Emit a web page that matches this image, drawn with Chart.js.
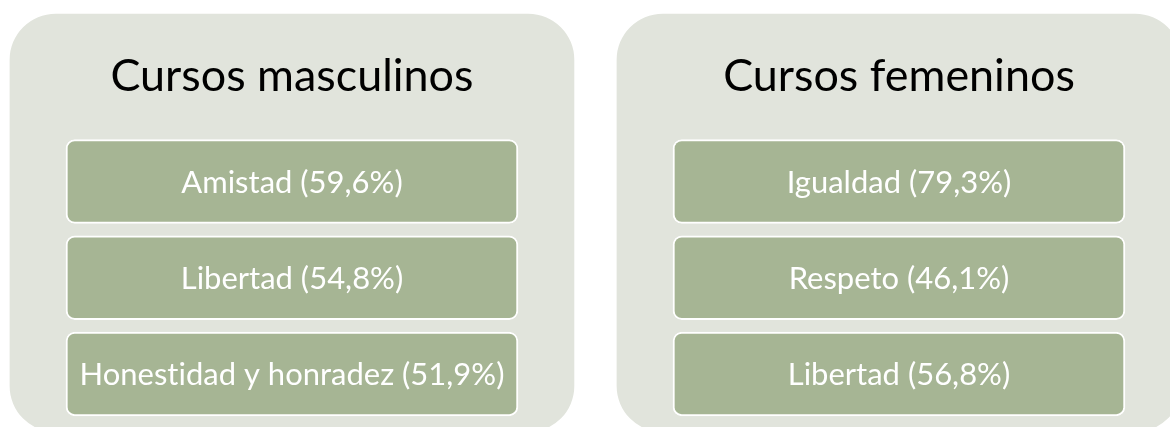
<html>
  <head>
    <script src="https://cdn.jsdelivr.net/npm/chart.js@4.4.1/dist/chart.umd.min.js"></script>
    <style>
      body { margin: 0; background: #ffffff; }
    </style>
  </head>
  <body>
    <canvas id="valuesChart" width="1170" height="427"></canvas>
    <script>
      // groups (columns) and the three top values of each one
      const groups = ['Cursos masculinos', 'Cursos femeninos'];
      const ranks = [1, 2, 3];
      const mascLabels = ['Amistad', 'Libertad', 'Honestidad y honradez'];
      const mascValues = [59.6, 54.8, 51.9];
      const femLabels = ['Igualdad', 'Respeto', 'Libertad'];
      const femValues = [79.3, 46.1, 56.8];

      const PANEL_COLOR = '#e1e4dc';
      const BOX_COLOR = '#a6b594';
      const FONT = 'Lato, "Open Sans", sans-serif';

      const BOX_HALF = 0.435;          // half height of a box, in rank units
      const PANEL_TOP = -0.74;
      const PANEL_BOTTOM = 3.6;
      const TITLE_ROW = -0.11;

      const boxLabels = [mascLabels, femLabels];
      const boxValues = [mascValues, femValues];

      function fmt(v) {
        return v.toFixed(1).replace('.', ',') + '%';
      }

      let datasets = ranks.map(function(r) {
        return {
          label: 'Puesto ' + r,
          data: groups.map(function(g, gi) {
            return { x: gi, y: [r - BOX_HALF, r + BOX_HALF] };
          }),
          backgroundColor: BOX_COLOR,
          borderColor: '#ffffff',
          borderWidth: 2,
          borderRadius: 9,
          borderSkipped: false,
          barThickness: 452,
          order: 1
        };
      });
      datasets.push({
        label: 'panel',
        data: groups.map(function(g, gi) {
          return { x: gi, y: [PANEL_TOP, PANEL_BOTTOM] };
        }),
        backgroundColor: PANEL_COLOR,
        borderWidth: 0,
        borderRadius: 46,
        borderSkipped: false,
        barThickness: 564,
        order: 2
      });

      function fitSize(ctx, texts, target) {
        ctx.font = 'normal 100px ' + FONT;
        let w = 0;
        texts.forEach(function(t) { w = Math.max(w, ctx.measureText(t).width); });
        return 100 * target / w;
      }

      const textPlugin = {
        id: 'boxText',
        afterDatasetsDraw: function(chart) {
          const ctx = chart.ctx;
          const xs = chart.scales.x, ys = chart.scales.y;
          ctx.save();
          ctx.textAlign = 'center';
          ctx.textBaseline = 'alphabetic';
          ctx.letterSpacing = '0.01px';   // keeps Lato from joining "ti"

          // titles
          const titleSize = fitSize(ctx, [groups[0]], 363);
          ctx.font = 'normal ' + titleSize + 'px ' + FONT;
          ctx.fillStyle = '#000000';
          const capT = ctx.measureText('C').actualBoundingBoxAscent;
          groups.forEach(function(g, gi) {
            ctx.fillText(g, xs.getPixelForValue(gi), ys.getPixelForValue(TITLE_ROW) + capT / 2);
          });

          // box labels
          let all = [];
          groups.forEach(function(g, gi) {
            ranks.forEach(function(r, ri) {
              all.push(boxLabels[gi][ri] + ' (' + fmt(boxValues[gi][ri]) + ')');
            });
          });
          const boxSize = fitSize(ctx, all, 425);
          ctx.font = 'normal ' + boxSize + 'px ' + FONT;
          ctx.fillStyle = '#ffffff';
          const capB = ctx.measureText('H').actualBoundingBoxAscent;
          ranks.forEach(function(r, ri) {
            const meta = chart.getDatasetMeta(ri);
            meta.data.forEach(function(el, gi) {
              const c = el.getCenterPoint();
              const txt = boxLabels[gi][ri] + ' (' + fmt(boxValues[gi][ri]) + ')';
              ctx.fillText(txt, c.x, c.y + capB / 2);
            });
          });
          ctx.restore();
        }
      };

      window.onload = function() {
        const ctxChart = document.getElementById('valuesChart');
        window.myChart = new Chart(ctxChart, {
          type: 'bar',
          data: { datasets: datasets },
          options: {
            responsive: false,
            animation: false,
            devicePixelRatio: 1,
            layout: { padding: 0 },
            datasets: { bar: { grouped: false } },
            plugins: {
              legend: { display: false },
              tooltip: { enabled: false },
              title: { display: false }
            },
            scales: {
              x: { type: 'linear', display: false, offset: false, min: -0.481, max: 1.4465 },
              y: { type: 'linear', display: false, reverse: true, min: -0.886, max: 3.551 }
            }
          },
          plugins: [textPlugin]
        });
      };
    </script>
  </body>
</html>
